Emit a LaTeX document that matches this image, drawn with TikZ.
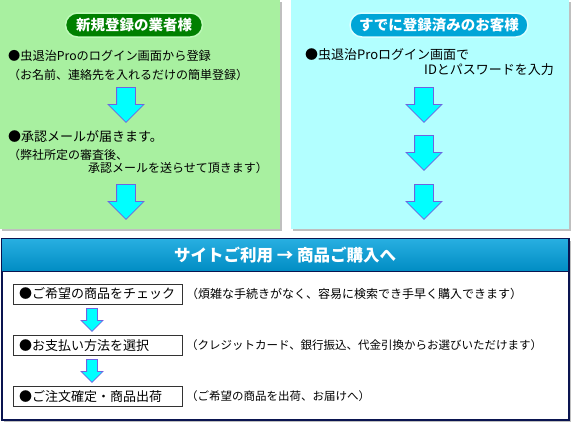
\documentclass[tikz,border=0pt]{standalone}
\usepackage{fontspec}
\setmainfont{Noto Sans CJK JP}
\usepackage{xcolor}
\usepackage{tikz}
\usetikzlibrary{shapes.arrows,shadows}
\definecolor{newgreen}{RGB}{168,240,160}
\definecolor{oldcyan}{RGB}{178,255,255}
\definecolor{pillgreen}{RGB}{0,128,0}
\definecolor{pillgreenedge}{RGB}{190,250,185}
\definecolor{pillblue}{RGB}{0,165,215}
\definecolor{pillblueedge}{RGB}{215,255,255}
\definecolor{arrowfill}{RGB}{0,255,255}
\definecolor{arrowedge}{RGB}{110,100,225}
\definecolor{framenavy}{RGB}{10,20,80}
\definecolor{headtop}{RGB}{40,175,225}
\definecolor{headbot}{RGB}{0,140,195}

\begin{document}
\begin{tikzpicture}[x=1pt, y=-1pt,
  every node/.style={inner sep=0pt, font=\fontsize{13}{15}\selectfont},
  panel/.style={anchor=north west, drop shadow={shadow xshift=2pt, shadow yshift=-2pt, fill=black!25, opacity=1}},
  pill/.style={rounded corners=12pt, minimum height=24pt, line width=1.5pt, text=white, font=\fontsize{14.5}{16}\selectfont\bfseries},
  note/.style={anchor=west, font=\fontsize{12}{14}\selectfont},
  side/.style={anchor=west, font=\fontsize{11.5}{14}\selectfont},
  stepbox/.style={draw=black!80, line width=0.8pt, fill=white, minimum height=20pt, text width=157pt, inner xsep=6pt, align=left},
  bigarrow/.style={single arrow, rotate=-90, anchor=tail, draw=arrowedge, fill=arrowfill, line width=0.8pt,
    inner xsep=0pt, inner ysep=9pt, minimum height=35pt, minimum width=0pt, single arrow head extend=8.5pt, single arrow tip angle=90},
  smallarrow/.style={bigarrow, inner ysep=5pt, minimum height=23pt, single arrow head extend=5.5pt}
]
  \useasboundingbox (0,0) rectangle (572,423);

  % registration panels
  \node[panel, fill=newgreen, minimum width=280pt, minimum height=229pt] (newpanel) at (0,0) {};
  \node[panel, fill=oldcyan, minimum width=278pt, minimum height=229pt] (oldpanel) at (291,0) {};

  \node[pill, fill=pillgreen, draw=pillgreenedge, minimum width=137pt] (newtitle) at (134,25) {新規登録の業者様};
  \node[anchor=west, font=\fontsize{12.2}{15}\selectfont] (n1) at (8,56) {●虫退治Proのログイン画面から登録};
  \node[note] (n2) at (8,75) {（お名前、連絡先を入れるだけの簡単登録）};
  \node[bigarrow] (ga1) at (126,87) {};
  \node[anchor=west] (n3) at (8,137) {●承認メールが届きます。};
  \node[note] (n4) at (8,155) {（弊社所定の審査後、};
  \node[note] (n5) at (88,168) {承認メールを送らせて頂きます）};
  \node[bigarrow] (ga2) at (126,184) {};

  \node[pill, fill=pillblue, draw=pillblueedge, minimum width=178pt] (oldtitle) at (439,25) {すでに登録済みのお客様};
  \node[anchor=west] (c1) at (305,55) {●虫退治Proログイン画面で};
  \node[anchor=west] (c2) at (424,70) {IDとパスワードを入力};
  \node[bigarrow] (ca1) at (424,87) {};
  \node[bigarrow] (ca2) at (424,135) {};
  \node[bigarrow] (ca3) at (424,184) {};

  % purchase panel
  \node[panel, fill=white, draw=framenavy, line width=1.5pt, minimum width=567pt, minimum height=181pt] (usepanel) at (1,238) {};
  \node[anchor=north west, top color=headtop, bottom color=headbot, draw=framenavy, line width=1.2pt,
        minimum width=567pt, minimum height=33pt, text=white, font=\fontsize{16.5}{18}\selectfont\bfseries] (usehead) at (1,238)
        {サイトご利用 → 商品ご購入へ};

  \node[stepbox] (b1) at (97.5,294) {●ご希望の商品をチェック};
  \node[stepbox] (b2) at (97.5,345.5) {●お支払い方法を選択};
  \node[stepbox] (b3) at (97.5,396.5) {●ご注文確定・商品出荷};
  \node[side, font=\fontsize{12}{14}\selectfont] (s1) at (186,294) {（煩雑な手続きがなく、容易に検索でき手早く購入できます）};
  \node[side] (s2) at (186,345.5) {（クレジットカード、銀行振込、代金引換からお選びいただけます）};
  \node[side] (s3) at (186,396.5) {（ご希望の商品を出荷、お届けへ）};
  \node[smallarrow] (ua1) at (92,308) {};
  \node[smallarrow] (ua2) at (92,359) {};
\end{tikzpicture}
\end{document}
